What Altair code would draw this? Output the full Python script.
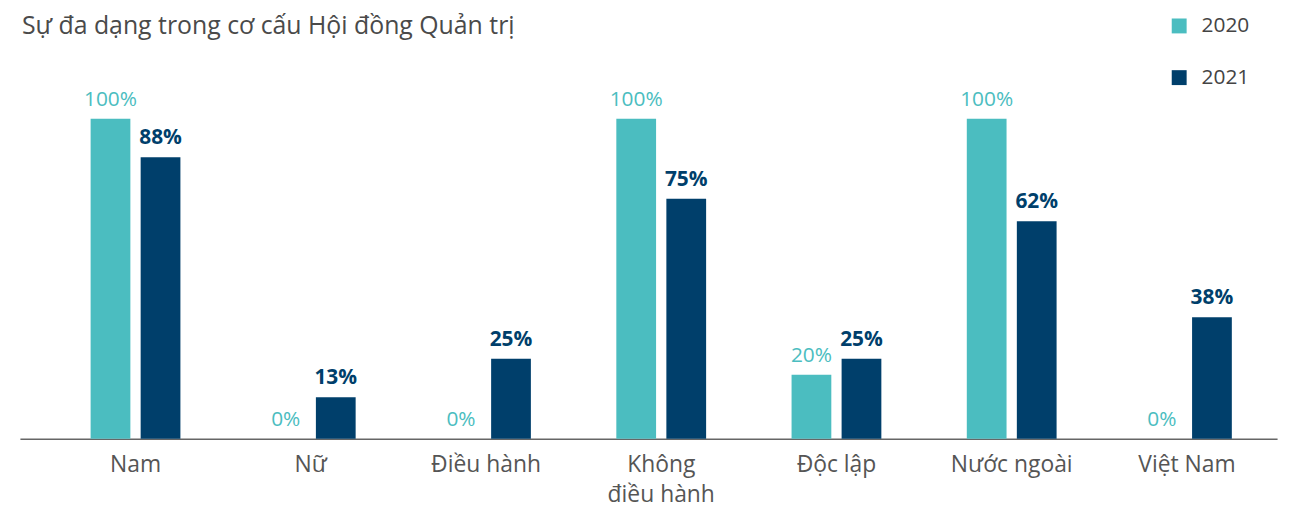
import altair as alt
import pandas as pd

categories = ["Nam", "Nữ", "Điều hành", "Không|điều hành", "Độc lập", "Nước ngoài", "Việt Nam"]
years = ["2020", "2021"]
values_2020 = [100, 0, 0, 100, 20, 100, 0]
values_2021 = [88, 13, 25, 75, 25, 68, 38]
labels_2020 = ["100%", "0%", "0%", "100%", "20%", "100%", "0%"]
labels_2021 = ["88%", "13%", "25%", "75%", "25%", "62%", "38%"]
colors = ["#4BBDC0", "#003F6B"]

rows = []
for i, c in enumerate(categories):
    rows.append({"cat": c, "year": "2020", "value": values_2020[i] / 100, "label": labels_2020[i]})
    rows.append({"cat": c, "year": "2021", "value": values_2021[i] / 100, "label": labels_2021[i]})
df = pd.DataFrame(rows)

FONT = "Open Sans"

x_enc = alt.X("cat:N", sort=categories,
              scale=alt.Scale(paddingInner=0.486, paddingOuter=0.33, align=0.61),
              axis=alt.Axis(title=None, labelExpr="split(datum.label, '|')",
                            labelFont=FONT, labelFontSize=23, labelColor="#555555",
                            labelPadding=15, labelLineHeight=30, ticks=False,
                            domainColor="#666666", domainWidth=1.5, labelAngle=0))
xo_enc = alt.XOffset("year:N", sort=years, scale=alt.Scale(paddingInner=0.2))
y_enc = alt.Y("value:Q", scale=alt.Scale(domain=[0, 390 / 322]), axis=None)
color_enc = alt.Color("year:N", sort=years,
                      scale=alt.Scale(domain=years, range=colors),
                      legend=alt.Legend(title=None, orient="none", legendX=1156, legendY=-36,
                                        symbolType="square", symbolSize=225,
                                        symbolStrokeWidth=0, labelFont=FONT,
                                        labelFontSize=21, labelColor="#444444",
                                        rowPadding=30, labelOffset=12, padding=0))

base = alt.Chart(df).encode(x=x_enc, xOffset=xo_enc, y=y_enc)

bars = base.mark_bar(size=40).encode(color=color_enc)

text20 = base.transform_filter(alt.datum.year == "2020").mark_text(
    dy=-9, baseline="bottom", font=FONT, fontSize=21, color=colors[0]
).encode(text="label:N")
text21 = base.transform_filter(alt.datum.year == "2021").mark_text(
    dy=-9, baseline="bottom", font=FONT, fontSize=21, fontWeight="bold", color=colors[1]
).encode(text="label:N")

chart = alt.layer(bars, text20, text21).properties(
    width=1265, height=390,
    autosize=alt.AutoSizeParams(type="none"),
    padding={"left": 12, "top": 42, "right": 12, "bottom": 68},
    title=alt.TitleParams("Sự đa dạng trong cơ cấu Hội đồng Quản trị", anchor="start",
                          font=FONT, fontSize=25, fontWeight="normal", color="#4a4a4a",
                          offset=-24, dx=2),
).configure_view(stroke=None)

chart.save("out.html", embed_options={"renderer": "svg", "actions": False})
